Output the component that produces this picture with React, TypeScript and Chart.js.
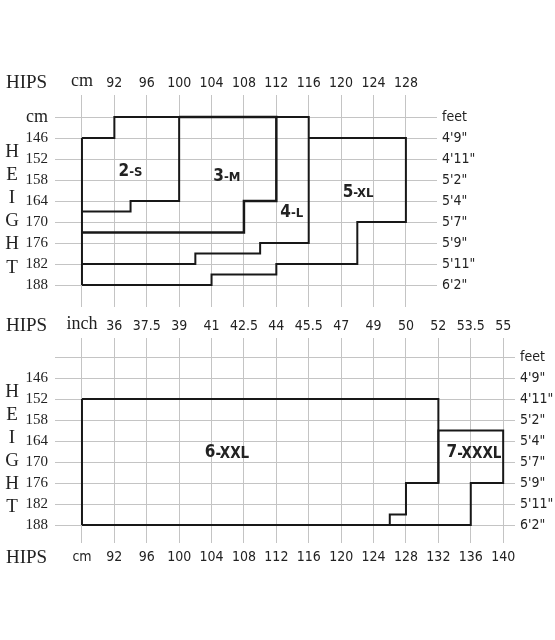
import { useEffect, useRef } from "react";
import { Chart, registerables } from "chart.js";
Chart.register(...registerables);

// ---------- data ----------
const hipCm = [88, 92, 96, 100, 104, 108, 112, 116, 120, 124, 128, 132, 136, 140];
const hipCmLabels = ["cm", "92", "96", "100", "104", "108", "112", "116", "120", "124", "128", "132", "136", "140"];
const hipInchLabels = ["inch", "36", "37.5", "39", "41", "42.5", "44", "45.5", "47", "49", "50", "52", "53.5", "55"];
const heightCm = [140, 146, 152, 158, 164, 170, 176, 182, 188];
const heightCmLabelsTop = ["cm", "146", "152", "158", "164", "170", "176", "182", "188"];
const heightCmLabelsBottom = ["", "146", "152", "158", "164", "170", "176", "182", "188"];
const heightFeetLabels = ["feet", "4'9\"", "4'11\"", "5'2\"", "5'4\"", "5'7\"", "5'9\"", "5'11\"", "6'2\""];
const heightLetters = ["H", "E", "I", "G", "H", "T"];

// size outlines: [hip cm, height cm]
const topLeftEdge = [[88, 146], [88, 188]];
const sizeS = [[88, 146], [92, 146], [92, 140], [100, 140], [100, 164], [94, 164], [94, 167], [88, 167]];
const sizeM = [[100, 140], [112, 140], [112, 164], [108, 164], [108, 173], [88, 173]];
const sizeL = [[112, 140], [116, 140], [116, 176], [110, 176], [110, 179], [102, 179], [102, 182], [88, 182]];
const sizeXL = [[116, 146], [128, 146], [128, 170], [122, 170], [122, 182], [112, 182], [112, 185], [104, 185], [104, 188], [88, 188]];

const bottomLeftEdge = [[88, 152], [88, 188]];
const sizeXXL = [[88, 152], [132, 152], [132, 176], [128, 176], [128, 185], [126, 185], [126, 188], [88, 188]];
const sizeXXXL = [[132, 176], [132, 161], [140, 161], [140, 176], [136, 176], [136, 188], [126, 188]];

// size names and where they sit (hip cm, height cm)
const topSizeNames = [["2", "-S"], ["3", "-M"], ["4", "-L"], ["5", "-XL"]];
const topSizeAt = [[94, 155.7], [105.9, 156.9], [113.9, 167.4], [122.1, 161.7]];
const bottomSizeNames = [["6", "-XXL"], ["7", "-XXXL"]];
const bottomSizeAt = [[105.9, 167.4], [136.4, 167.4]];

// ---------- styles ----------
const INK = "#222222";
const GRID = "#c4c4c4";
const LINE = "#181818";
const SERIF = '"Liberation Serif", "DejaVu Serif", serif';
const SANS = '"DejaVu Sans Condensed", "Liberation Sans", sans-serif';
const TICK_SIZE = 14;

const toPts = (a: number[][]) => a.map(([x, y]) => ({ x, y }));
const outline = (a: number[][], w = 2) => ({
  data: toPts(a),
  showLine: true,
  borderColor: LINE,
  borderWidth: w,
  pointRadius: 0,
  pointHoverRadius: 0,
  fill: false,
  tension: 0,
});

function makeTextPlugin(hipsRows: string[], names: string[][], at: number[][], suffixSize: number) {
  return {
    id: "chartText",
    afterDraw(chart: any) {
      const { ctx, chartArea, scales } = chart;
      const xs = scales.x;
      const ys = scales.y;
      ctx.save();
      ctx.fillStyle = INK;
      ctx.textBaseline = "middle";
      ctx.textAlign = "left";
      ctx.font = `19px ${SERIF}`;
      for (const r of hipsRows) {
        const y = r === "top" ? chartArea.top - 12 : chartArea.bottom + 15;
        ctx.fillText("HIPS", 6, y);
      }
      ctx.textAlign = "center";
      heightLetters.forEach((ch, i) => {
        ctx.fillText(ch, 12, ys.getPixelForValue(150 + i * 6.6));
      });
      ctx.textAlign = "left";
      names.forEach(([num, suf], i) => {
        const px = xs.getPixelForValue(at[i][0]);
        const py = ys.getPixelForValue(at[i][1]);
        ctx.font = `bold 17px ${SANS}`;
        const w1 = ctx.measureText(num).width;
        ctx.font = `bold ${suffixSize}px ${SANS}`;
        const w2 = ctx.measureText(suf).width;
        const x0 = px - (w1 + w2) / 2;
        ctx.font = `bold 17px ${SANS}`;
        ctx.fillText(num, x0, py);
        ctx.font = `bold ${suffixSize}px ${SANS}`;
        ctx.fillText(suf, x0 + w1, py + 1);
      });
      ctx.restore();
    },
  };
}

const setTicks = (vals: number[]) => (s: any) => {
  s.ticks = vals.map((v) => ({ value: v }));
};
const fitTo = (dim: "width" | "height", size: number) => (s: any) => {
  s[dim] = size;
  s.paddingTop = 0;
  s.paddingBottom = 0;
  s.paddingLeft = 0;
  s.paddingRight = 0;
};

export default function App() {
  const topRef = useRef<HTMLCanvasElement>(null);
  const botRef = useRef<HTMLCanvasElement>(null);

  useEffect(() => {
    document.body.style.margin = "0";
    const topHips = hipCm.slice(0, 11);

    const top = new Chart(topRef.current as HTMLCanvasElement, {
      type: "scatter",
      data: {
        datasets: [
          outline(topLeftEdge),
          outline(sizeS),
          outline(sizeM, 2.5),
          outline(sizeL),
          outline(sizeXL),
        ] as any,
      },
      options: {
        animation: false,
        responsive: false,
        devicePixelRatio: 1,
        events: [],
        layout: { padding: { left: 0, right: 0, top: 0, bottom: 5 }, autoPadding: false },
        plugins: { legend: { display: false }, tooltip: { enabled: false }, title: { display: false } },
        scales: {
          x: {
            type: "linear",
            position: "top",
            min: 84.67,
            max: 131.84,
            afterBuildTicks: setTicks(topHips),
            afterFit: fitTo("height", 95),
            grid: { color: GRID, lineWidth: 1, drawTicks: false },
            border: { display: false },
            ticks: {
              padding: 3,
              autoSkip: false,
              maxRotation: 0,
              color: INK,
              font: (c: any) => (c.tick && c.tick.value === 88 ? { family: SERIF, size: 18 } : { family: SANS, size: TICK_SIZE }),
              callback: (v: any) => hipCmLabels[hipCm.indexOf(Number(v))],
            },
          },
          y: {
            type: "linear",
            position: "left",
            reverse: true,
            min: 133.71,
            max: 194.28,
            afterBuildTicks: setTicks(heightCm),
            afterFit: fitTo("width", 55),
            grid: { color: GRID, lineWidth: 1, drawTicks: false },
            border: { display: false },
            ticks: {
              padding: 7,
              autoSkip: false,
              color: INK,
              font: (c: any) => (c.tick && c.tick.value === 140 ? { family: SERIF, size: 18 } : { family: SERIF, size: 15 }),
              callback: (v: any) => heightCmLabelsTop[heightCm.indexOf(Number(v))],
            },
          },
          yRight: {
            type: "linear",
            position: "right",
            reverse: true,
            min: 133.71,
            max: 194.28,
            afterBuildTicks: setTicks(heightCm),
            afterFit: fitTo("width", 118),
            grid: { display: false, drawTicks: false },
            border: { display: false },
            ticks: {
              padding: 5,
              autoSkip: false,
              color: INK,
              font: { family: SANS, size: TICK_SIZE },
              callback: (v: any) => heightFeetLabels[heightCm.indexOf(Number(v))],
            },
          },
        },
      } as any,
      plugins: [makeTextPlugin(["top"], topSizeNames, topSizeAt, 13)],
    });

    const bottom = new Chart(botRef.current as HTMLCanvasElement, {
      type: "scatter",
      data: {
        datasets: [outline(bottomLeftEdge), outline(sizeXXL), outline(sizeXXXL)] as any,
      },
      options: {
        animation: false,
        responsive: false,
        devicePixelRatio: 1,
        events: [],
        layout: { padding: { left: 0, right: 0, top: 0, bottom: 57 }, autoPadding: false },
        plugins: { legend: { display: false }, tooltip: { enabled: false }, title: { display: false } },
        scales: {
          x: {
            type: "linear",
            position: "top",
            min: 84.67,
            max: 141.46,
            afterBuildTicks: setTicks(hipCm),
            afterFit: fitTo("height", 26),
            grid: { color: GRID, lineWidth: 1, drawTicks: false },
            border: { display: false },
            ticks: {
              padding: 3,
              autoSkip: false,
              maxRotation: 0,
              color: INK,
              font: (c: any) => (c.tick && c.tick.value === 88 ? { family: SERIF, size: 18 } : { family: SANS, size: TICK_SIZE }),
              callback: (v: any) => hipInchLabels[hipCm.indexOf(Number(v))],
            },
          },
          xBottom: {
            type: "linear",
            position: "bottom",
            min: 84.67,
            max: 141.46,
            afterBuildTicks: setTicks(hipCm),
            afterFit: fitTo("height", 40),
            grid: { display: false, drawTicks: false },
            border: { display: false },
            ticks: {
              padding: 6,
              autoSkip: false,
              maxRotation: 0,
              color: INK,
              font: { family: SANS, size: TICK_SIZE },
              callback: (v: any) => hipCmLabels[hipCm.indexOf(Number(v))],
            },
          },
          y: {
            type: "linear",
            position: "left",
            reverse: true,
            min: 134.57,
            max: 193.14,
            afterBuildTicks: setTicks(heightCm),
            afterFit: fitTo("width", 55),
            grid: { color: GRID, lineWidth: 1, drawTicks: false },
            border: { display: false },
            ticks: {
              padding: 7,
              autoSkip: false,
              color: INK,
              font: { family: SERIF, size: 15 },
              callback: (v: any) => heightCmLabelsBottom[heightCm.indexOf(Number(v))],
            },
          },
          yRight: {
            type: "linear",
            position: "right",
            reverse: true,
            min: 134.57,
            max: 193.14,
            afterBuildTicks: setTicks(heightCm),
            afterFit: fitTo("width", 40),
            grid: { display: false, drawTicks: false },
            border: { display: false },
            ticks: {
              padding: 5,
              autoSkip: false,
              color: INK,
              font: { family: SANS, size: TICK_SIZE },
              callback: (v: any) => heightFeetLabels[heightCm.indexOf(Number(v))],
            },
          },
        },
      } as any,
      plugins: [makeTextPlugin(["top", "bottom"], bottomSizeNames, bottomSizeAt, 15)],
    });

    return () => {
      top.destroy();
      bottom.destroy();
    };
  }, []);

  return (
    <div style={{ width: 555, height: 640, background: "#fff" }}>
      <canvas ref={topRef} width={555} height={312} style={{ display: "block" }} />
      <canvas ref={botRef} width={555} height={328} style={{ display: "block" }} />
    </div>
  );
}
